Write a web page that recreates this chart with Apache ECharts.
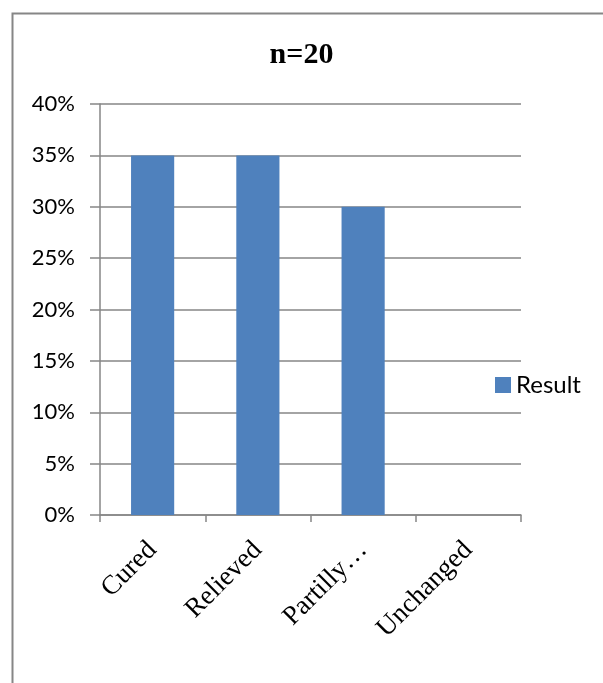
<!DOCTYPE html>
<html>
<head>
<meta charset="utf-8">
<script src="https://cdn.jsdelivr.net/npm/echarts@6/dist/echarts.min.js"></script>
<style>html,body{margin:0;padding:0;background:#fff}#c{width:603px;height:683px}</style>
</head>
<body>
<div id="c"></div>
<script>
const categories = ["Cured", "Relieved", "Partilly\u2026", "Unchanged"];
const resultValues = [35, 35, 30, 0];
const yTicks = [0, 5, 10, 15, 20, 25, 30, 35, 40];
const seriesName = "Result";
const titleText = "n=20";

const chart = echarts.init(document.getElementById('c'), null, {renderer: 'canvas'});
chart.setOption({
  animation: false,
  backgroundColor: '#fff',
  graphic: [{
    type: 'rect', silent: true,
    shape: {x: 12.5, y: 13.5, width: 620, height: 700},
    style: {fill: 'none', stroke: '#868686', lineWidth: 2}
  }],
  title: {
    text: titleText, left: 'center', top: 35,
    textStyle: {fontFamily: 'Liberation Serif', fontWeight: 'bold', fontSize: 30, color: '#000'}
  },
  legend: {
    data: [seriesName], left: 490, top: 368, orient: 'vertical',
    icon: 'rect', itemWidth: 16, itemHeight: 16, itemGap: 6,
    textStyle: {fontFamily: 'Lato', fontSize: 24, color: '#000'}
  },
  grid: {left: 100, right: 82, top: 104, bottom: 168, containLabel: false},
  xAxis: {
    type: 'category', data: categories,
    axisLine: {lineStyle: {color: '#868686', width: 1.5}},
    axisTick: {show: true, alignWithLabel: false, length: 7, lineStyle: {color: '#868686', width: 1.5}},
    axisLabel: {rotate: 45, margin: 31, fontFamily: 'Liberation Serif', fontSize: 27, color: '#000', interval: 0},
    splitLine: {show: false}
  },
  yAxis: {
    type: 'value', min: 0, max: 40, interval: 5,
    axisLine: {show: true, lineStyle: {color: '#868686', width: 1.5}},
    axisTick: {show: true, length: 10, lineStyle: {color: '#868686', width: 1.5}},
    axisLabel: {
      margin: 25, fontFamily: 'Lato', fontSize: 22, color: '#000',
      formatter: v => yTicks.includes(v) ? v + '%' : ''
    },
    splitLine: {show: true, lineStyle: {color: '#868686', width: 1.5}}
  },
  series: [{
    name: seriesName, type: 'bar', data: resultValues,
    barWidth: '41%',
    itemStyle: {color: '#4F81BD'}
  }]
});
</script>
</body>
</html>
